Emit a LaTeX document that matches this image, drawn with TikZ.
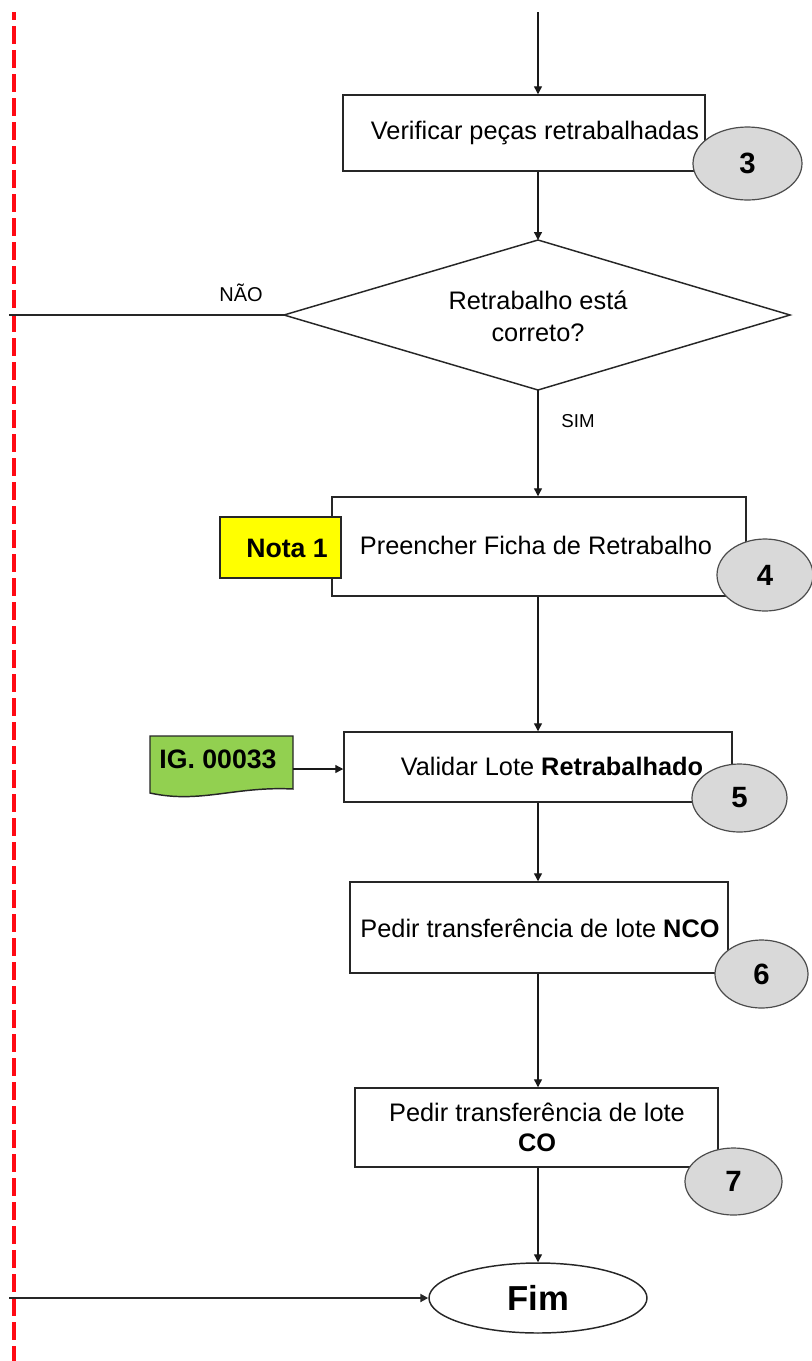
\documentclass[tikz,border=0pt]{standalone}
\usepackage{fontspec}
\setmainfont{Liberation Sans}
\usetikzlibrary{arrows.meta,shapes.geometric}
\definecolor{stepgray}{HTML}{D9D9D9}
\definecolor{noteyellow}{HTML}{FFFF00}
\definecolor{docgreen}{HTML}{92D050}
\definecolor{lanered}{HTML}{FF0A14}
\begin{document}
\begin{tikzpicture}[x=0.75pt,y=-0.75pt,
  stepbox/.style={draw=black!85,line width=1.1pt,fill=white,rectangle,inner sep=0pt},
  steptext/.style={font=\fontsize{19}{22.5}\selectfont,align=center,inner sep=0pt},
  stepnum/.style={ellipse,draw=black!70,line width=0.9pt,fill=stepgray,inner sep=0pt,
                  font=\fontsize{22}{24}\selectfont\bfseries},
  tipshape/.style={-{Triangle[length=6pt,width=6pt]}},
  flow/.style={draw=black!90,line width=1pt,tipshape},
  lane/.style={draw=black!85,line width=1.5pt},
  tag/.style={font=\fontsize{15}{17}\selectfont,inner sep=0pt}]
\useasboundingbox (0,0) rectangle (811,1361);

% swimlane border
\draw[lanered,line width=3pt,dash pattern=on 13.5pt off 4.5pt,dash phase=7.5pt] (14,12) -- (14,1361);

% spine of the flow
\coordinate (top) at (538,12);

% decision diamond
\coordinate (dt) at (538,240);
\coordinate (dl) at (284,315);
\coordinate (dr) at (790,315);
\coordinate (db) at (538,390);
\draw[draw=black!85,line width=1.1pt,fill=white] (dt) -- (dr) -- (db) -- (dl) -- cycle;
\node[steptext,font=\fontsize{19}{24}\selectfont] (dtext) at (538,316) {Retrabalho está\\correto?};

% process boxes
\node[stepbox,minimum width=271.5pt,minimum height=57pt] (b1) at (524,133) {};
\node[stepbox,minimum width=310.5pt,minimum height=74.25pt] (b4) at (539,546.5) {};
\node[stepbox,minimum width=291pt,minimum height=52.5pt] (b5) at (538,767) {};
\node[stepbox,minimum width=283.5pt,minimum height=68.25pt] (b6) at (539,927.5) {};
\node[stepbox,minimum width=272.25pt,minimum height=59.25pt] (b7) at (536.5,1127.5) {};

\node[steptext] (t1) at (535,133) {Verificar peças retrabalhadas};
\node[steptext] (t4) at (536,545) {Preencher Ficha de Retrabalho};
\node[steptext] (t5) at (552,766) {Validar Lote \textbf{Retrabalhado}};
\node[steptext] (t6) at (540,928) {Pedir transferência de lote \textbf{NCO}};
\node[steptext] (t7) at (537,1127) {Pedir transferência de lote\\\textbf{CO}};

% end terminal
\node[ellipse,draw=black!85,line width=1.1pt,fill=white,inner sep=0pt,
      minimum width=163.5pt,minimum height=52.5pt,
      font=\fontsize{26}{28}\selectfont\bfseries] (fim) at (538,1298) {Fim};

% note and reference document
\node[rectangle,draw=black!85,line width=1.1pt,fill=noteyellow,inner sep=0pt,
      minimum width=90.75pt,minimum height=45.75pt] (nota) at (280.5,547.5) {};
\node[font=\fontsize{20}{22}\selectfont\bfseries,inner sep=0pt] (notatext) at (287,548) {Nota 1};

\draw[draw=black!85,line width=1.1pt,fill=docgreen]
  (150,736) -- (293,736) -- (293,789)
  .. controls (235,786) and (200,804) .. (150,793) -- cycle;
\node[font=\fontsize{20}{22}\selectfont\bfseries,inner sep=0pt] (ig) at (218,759) {IG. 00033};
\coordinate (igR) at (293,769);

% step numbers
\node[stepnum,minimum width=81.75pt,minimum height=54.75pt] (c3) at (747.5,163.5) {3};
\node[stepnum,minimum width=72pt,minimum height=54pt] (c4) at (765,575) {4};
\node[stepnum,minimum width=71.25pt,minimum height=51pt] (c5) at (739.5,798) {5};
\node[stepnum,minimum width=69.75pt,minimum height=51pt] (c6) at (761.5,974) {6};
\node[stepnum,minimum width=72.75pt,minimum height=50.25pt] (c7) at (733.5,1181.5) {7};

% connectors
\draw[flow] (top) -- (top |- b1.north);
\draw[flow] (top |- b1.south) -- (dt);
\draw[flow] (db) -- (top |- b4.north);
\draw[flow] (top |- b4.south) -- (top |- b5.north);
\draw[flow] (top |- b5.south) -- (top |- b6.north);
\draw[flow] (top |- b6.south) -- (top |- b7.north);
\draw[flow] (top |- b7.south) -- (fim.north);
\draw[flow] (igR) -- (b5.west |- igR);

\coordinate (noEnd) at (9,315);
\coordinate (fimStart) at (9,1298);
\draw[lane] (dl) -- (noEnd);
\draw[lane,tipshape] (fimStart) -- (fim.west);

% branch labels
\node[tag] (nao) at (241,293) {NÃO};
\node[tag,font=\fontsize{14}{16}\selectfont] (sim) at (578,421) {SIM};
\end{tikzpicture}
\end{document}
